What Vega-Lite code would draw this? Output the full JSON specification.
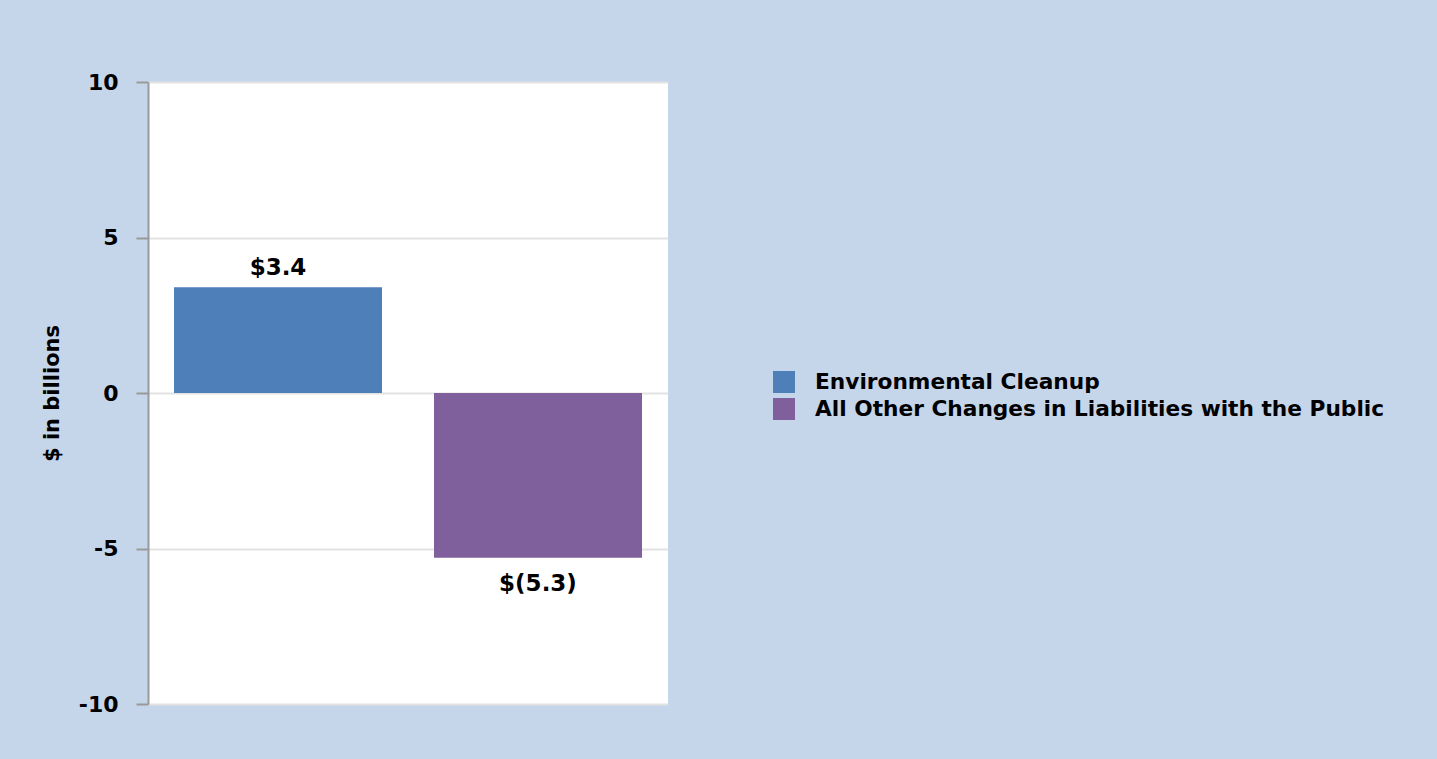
{
  "$schema": "https://vega.github.io/schema/vega-lite/v6.json",
  "width": 520,
  "height": 622,
  "autosize": {"type": "none"},
  "padding": {"left": 148, "top": 82, "right": 769, "bottom": 55},
  "background": "#c5d5ea",
  "config": {
    "font": "DejaVu Sans",
    "view": {"fill": "white", "stroke": null}
  },
  "data": {
    "values": [
      {"category": "Environmental Cleanup", "value": 3.4, "label": "$3.4"},
      {"category": "All Other Changes in Liabilities with the Public", "value": -5.3, "label": "$(5.3)"}
    ]
  },
  "encoding": {
    "x": {
      "field": "category",
      "type": "nominal",
      "sort": null,
      "axis": null,
      "scale": {"paddingInner": 0.2, "paddingOuter": 0.1}
    },
    "y": {
      "field": "value",
      "type": "quantitative",
      "scale": {"domain": [-10, 10], "nice": false},
      "axis": {
        "title": "$ in billions",
        "titleFont": "DejaVu Sans",
        "titleFontSize": 21,
        "titleFontWeight": "bold",
        "titleColor": "black",
        "titlePadding": 16,
        "values": [-10, -5, 0, 5, 10],
        "labelExpr": "replace(datum.label, '\u2212', '-')",
        "labelFont": "DejaVu Sans",
        "labelFontSize": 22,
        "labelFontWeight": "bold",
        "labelColor": "black",
        "labelPadding": 18,
        "tickColor": "#999999",
        "tickSize": 12,
        "tickWidth": 2,
        "domainColor": "#999999",
        "domainWidth": 2,
        "grid": true,
        "gridColor": "#e2e2e2",
        "gridWidth": 2
      }
    }
  },
  "layer": [
    {
      "mark": {"type": "bar"},
      "encoding": {
        "color": {
          "field": "category",
          "type": "nominal",
          "sort": null,
          "scale": {
            "domain": ["Environmental Cleanup", "All Other Changes in Liabilities with the Public"],
            "range": ["#4f7fb8", "#80609c"]
          },
          "legend": {
            "title": null,
            "orient": "none",
            "legendX": 625,
            "legendY": 289,
            "padding": 0,
            "symbolType": "square",
            "symbolSize": 484,
            "symbolStrokeWidth": 0,
            "symbolOpacity": 1,
            "labelFont": "DejaVu Sans",
            "labelFontSize": 21.7,
            "labelFontWeight": "bold",
            "labelColor": "black",
            "labelOffset": 20,
            "labelLimit": 800,
            "rowPadding": 4
          }
        }
      }
    },
    {
      "transform": [{"filter": "datum.value >= 0"}],
      "mark": {"type": "text", "baseline": "bottom", "dy": -7, "fontSize": 23, "fontWeight": "bold", "color": "black", "font": "DejaVu Sans"},
      "encoding": {"text": {"field": "label"}}
    },
    {
      "transform": [{"filter": "datum.value < 0"}],
      "mark": {"type": "text", "baseline": "top", "dy": 15, "fontSize": 23, "fontWeight": "bold", "color": "black", "font": "DejaVu Sans"},
      "encoding": {"text": {"field": "label"}}
    }
  ]
}
